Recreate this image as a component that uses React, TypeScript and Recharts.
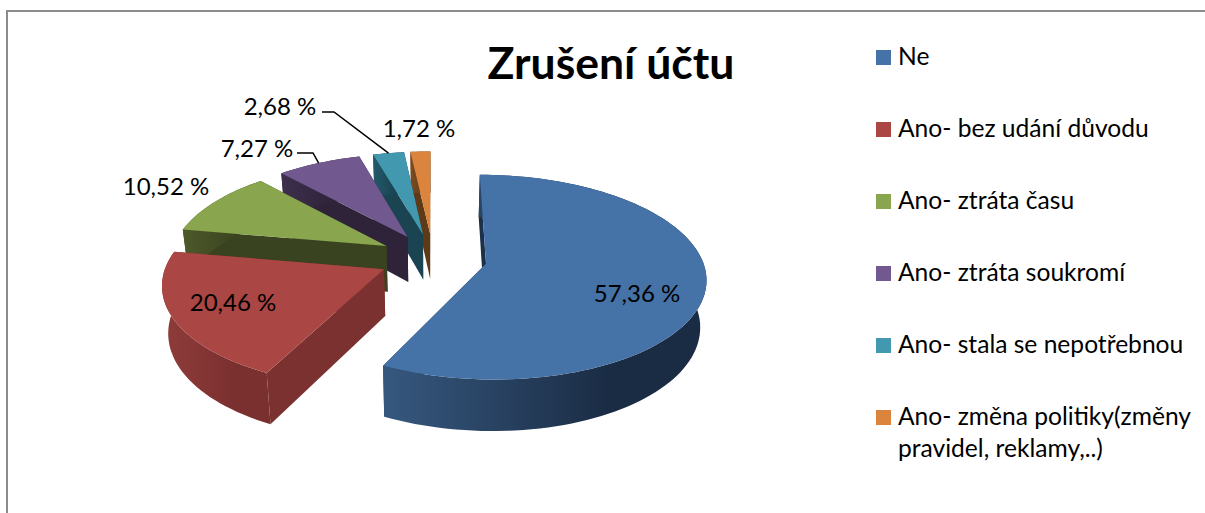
import React from 'react';
import { PieChart, Pie, Legend } from 'recharts';

const CATEGORIES = [
  'Ne',
  'Ano- bez udání důvodu',
  'Ano- ztráta času',
  'Ano- ztráta soukromí',
  'Ano- stala se nepotřebnou',
  'Ano- změna politiky(změny pravidel, reklamy,..)',
];
const VALUES = [57.36, 20.46, 10.52, 7.27, 2.68, 1.72];

const COLORS = ['#4572A7', '#AA4643', '#89A54E', '#71588F', '#4198AF', '#DB843D'];
const CUT_COLORS = ['#1d3049', '#7b3130', '#3a431f', '#2e2339', '#1a4452', '#5f3a17'];
const WALL_LEFT = ['#36587f', '#8f3c3a', '#4d5a2a', '#3d2f4d', '#23596a', '#7d4c20'];
const WALL_RIGHT = ['#1a2c44', '#7a302f', '#3a431f', '#2e2339', '#1a4452', '#5f3a17'];
const LABEL_POS = [
  [637, 292],
  [233, 301],
  [166, 185],
  [257, 147],
  [280, 105],
  [419, 127],
];
// elbow of the leader line, only the two small slices that have one
const LEADERS: Record<number, number[]> = {
  3: [297, 153, 313, 153],
  4: [322, 112, 334, 112],
};

const FONT = 'Lato, Carlito, sans-serif';
const W = 1205;
const H = 513;
const EXPLODE = 54;
const PERSP = 0.13;
const TILT = 0.459;

// drawn back to front, so the list runs the other way round the pie
const pieData = CATEGORIES.map((name, i) => ({ name, value: VALUES[i], order: i })).reverse();

const project = (cx: number, cy: number, r: number, gx: number, gz: number) => {
  const f = 1 / (1 - (PERSP * gz) / r);
  return [cx + gx * f, cy + gz * TILT * f];
};

const lower = (cx: number, p: number[]) => [
  cx + (p[0] - cx) * 0.977,
  p[1] + 45 + (p[1] - 234) * 0.045,
];

const toPath = (pts: number[][]) =>
  'M' + pts.map((p) => `${p[0].toFixed(1)},${p[1].toFixed(1)}`).join('L') + 'Z';

const sliceGeometry = (cx: number, cy: number, r: number, a0: number, a1: number) => {
  const mid = (((a0 + a1) / 2) * Math.PI) / 180;
  const ox = EXPLODE * Math.cos(mid);
  const oz = -EXPLODE * Math.sin(mid);
  const apex = project(cx, cy, r, ox, oz);
  const rim: number[][] = [];
  const steps = Math.max(4, Math.ceil(Math.abs(a1 - a0) / 2));
  for (let s = 0; s <= steps; s++) {
    const a = ((a0 + ((a1 - a0) * s) / steps) * Math.PI) / 180;
    rim.push(project(cx, cy, r, ox + r * Math.cos(a), oz - r * Math.sin(a)));
  }
  return { apex, rim, ox, oz, mid };
};

const Slice3D = (props: any) => {
  const { cx, cy, outerRadius, startAngle, endAngle, payload } = props;
  const i = payload.order;
  const { apex, rim } = sliceGeometry(cx, cy, outerRadius, startAngle, endAngle);
  const apexLow = lower(cx, apex);
  const rimLow = rim.map((p) => lower(cx, p));
  const first = rim[0];
  const last = rim[rim.length - 1];
  const xs = rim.map((p) => p[0]);
  const gradId = `wall-${i}`;
  return (
    <g>
      <defs>
        <linearGradient
          id={gradId}
          gradientUnits="userSpaceOnUse"
          x1={Math.min(...xs)}
          x2={Math.min(...xs) + (Math.max(...xs) - Math.min(...xs)) * 0.7}
          y1={0}
          y2={0}
        >
          <stop offset="0%" stopColor={WALL_LEFT[i]} />
          <stop offset="100%" stopColor={WALL_RIGHT[i]} />
        </linearGradient>
      </defs>
      <path d={toPath([apex, first, rimLow[0], apexLow])} fill={CUT_COLORS[i]} />
      <path d={toPath([apex, last, rimLow[rimLow.length - 1], apexLow])} fill={CUT_COLORS[i]} />
      <path d={toPath([...rim, ...rimLow.slice().reverse()])} fill={`url(#${gradId})`} />
      <path d={toPath([apex, ...rim])} fill={COLORS[i]} />
    </g>
  );
};

const SliceLabel = (props: any) => {
  const { cx, cy, outerRadius, payload, startAngle, endAngle } = props;
  const i = payload.order;
  const [x, y] = LABEL_POS[i];
  const text = VALUES[i].toFixed(2).replace('.', ',') + ' %';
  const elbow = LEADERS[i];
  let line = null;
  if (elbow) {
    const { ox, oz, mid } = sliceGeometry(cx, cy, outerRadius, startAngle, endAngle);
    const end = project(
      cx,
      cy,
      outerRadius,
      ox + outerRadius * Math.cos(mid),
      oz - outerRadius * Math.sin(mid)
    );
    line = (
      <polyline
        points={`${elbow[0]},${elbow[1]} ${elbow[2]},${elbow[3]} ${end[0]},${end[1]}`}
        fill="none"
        stroke="#000"
        strokeWidth={1.5}
      />
    );
  }
  return (
    <g>
      {line}
      <text
        x={x}
        y={y}
        textAnchor="middle"
        dominantBaseline="central"
        fontFamily={FONT}
        fontSize={24}
        fill="#000"
      >
        {text}
      </text>
    </g>
  );
};

const LegendList = () => (
  <div style={{ position: 'relative', width: 330, fontFamily: FONT, fontSize: 24.6, color: '#000' }}>
    {CATEGORIES.map((name, i) => (
      <div key={name} style={{ position: 'absolute', top: i * 72, left: 0, width: 330 }}>
        <span
          style={{
            position: 'absolute',
            left: 0,
            top: 0,
            width: 15,
            height: 15,
            background: COLORS[i],
          }}
        />
        <div style={{ position: 'absolute', left: 22, top: -10, width: 298, lineHeight: '32px' }}>
          {name}
        </div>
      </div>
    ))}
  </div>
);

export default function App() {
  return (
    <div style={{ position: 'absolute', left: 0, top: 0, width: W, height: H, overflow: 'hidden', background: '#fff' }}>
      <div
        style={{
          position: 'absolute',
          left: 6,
          top: 10,
          width: W,
          height: H,
          borderTop: '2px solid #8c8c8c',
          borderLeft: '2px solid #8c8c8c',
        }}
      />
      <div
        style={{
          position: 'absolute',
          left: 411,
          width: 400,
          top: 34,
          textAlign: 'center',
          fontFamily: FONT,
          fontWeight: 700,
          fontSize: 44.5,
          lineHeight: '56px',
          color: '#000',
        }}
      >
        Zrušení účtu
      </div>
      <div style={{ position: 'absolute', left: 0, top: 0 }}>
        <PieChart width={W} height={H}>
          <Pie
            data={pieData}
            dataKey="value"
            nameKey="name"
            cx={428}
            cy={253}
            outerRadius={216}
            startAngle={90}
            endAngle={450}
            stroke="none"
            shape={Slice3D}
            label={SliceLabel}
            labelLine={false}
            isAnimationActive={false}
          />
          <Legend
            content={<LegendList />}
            wrapperStyle={{ position: 'absolute', left: 876, top: 50, width: 330, bottom: 'auto', right: 'auto' }}
          />
        </PieChart>
      </div>
    </div>
  );
}
